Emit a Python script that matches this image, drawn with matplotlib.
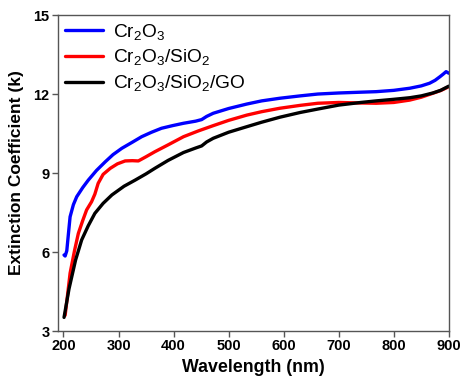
import matplotlib
matplotlib.use("Agg")
import matplotlib.pyplot as plt

plt.rcParams['font.family'] = 'Liberation Sans'
plt.rcParams['mathtext.fontset'] = 'custom'
plt.rcParams['mathtext.rm'] = 'Liberation Sans'
plt.rcParams['mathtext.it'] = 'Liberation Sans'

# wavelength (nm) and extinction coefficient
wl_cr = [201, 203, 206, 209, 212, 218, 224, 235, 245, 260, 276, 290, 306, 325, 342, 360, 378, 398, 418, 440, 451, 460,
         472, 500, 533, 560, 593, 630, 662, 700, 740, 768, 800, 829, 850, 865, 875, 884, 890, 895, 900]
k_cr = [5.89, 5.85, 6.05, 6.7, 7.34, 7.8, 8.1, 8.45, 8.73, 9.1, 9.43, 9.7, 9.94, 10.17, 10.38, 10.55, 10.7, 10.8, 10.89,
        10.97, 11.03, 11.15, 11.27, 11.45, 11.62, 11.74, 11.84, 11.93, 12.0, 12.04, 12.07, 12.09, 12.14, 12.22, 12.31,
        12.41, 12.52, 12.66, 12.76, 12.85, 12.79]

wl_si = [203, 207, 212, 220, 227, 235, 242, 251, 257, 263, 272, 285, 298, 312, 325, 336, 350, 366, 390, 418, 445, 472,
         500, 533, 560, 593, 630, 662, 700, 740, 768, 800, 829, 850, 871, 885, 900]
k_si = [3.6, 4.3, 5.2, 6.05, 6.71, 7.2, 7.6, 7.91, 8.2, 8.61, 8.95, 9.18, 9.35, 9.46, 9.47, 9.46, 9.62, 9.81, 10.07,
        10.38, 10.6, 10.8, 11.0, 11.2, 11.33, 11.46, 11.57, 11.65, 11.68, 11.66, 11.65, 11.68, 11.77, 11.88, 12.03,
        12.13, 12.28]

wl_go = [201, 205, 210, 215, 222, 233, 245, 257, 272, 288, 310, 330, 350, 366, 390, 418, 440, 451, 460, 472, 500, 533,
         560, 593, 630, 662, 700, 740, 768, 800, 829, 850, 871, 885, 900]
k_go = [3.52, 4.0, 4.6, 5.06, 5.7, 6.46, 7.0, 7.47, 7.85, 8.17, 8.5, 8.73, 8.97, 9.18, 9.48, 9.78, 9.95, 10.03, 10.18,
        10.32, 10.55, 10.76, 10.93, 11.12, 11.3, 11.43, 11.58, 11.68, 11.74, 11.8, 11.86, 11.93, 12.04, 12.14, 12.3]

labels = ['Cr$_2$O$_3$', 'Cr$_2$O$_3$/SiO$_2$', 'Cr$_2$O$_3$/SiO$_2$/GO']
colors = ['#0000ff', '#ff0000', '#000000']

fig = plt.figure(figsize=(4.62, 3.85), dpi=100)
ax = fig.add_axes([0.1255, 0.14, 0.846, 0.821])

for wl, k, lab, c in zip([wl_cr, wl_si, wl_go], [k_cr, k_si, k_go], labels, colors):
    ax.plot(wl, k, color=c, lw=2.4, label=lab, solid_capstyle='round', solid_joinstyle='round')

ax.set_xlim(190, 900)
ax.set_ylim(3, 15)
ax.set_xticks([200, 300, 400, 500, 600, 700, 800, 900])
ax.set_yticks([3, 6, 9, 12, 15])
ax.tick_params(direction='out', length=4, width=1, color='#555555', labelsize=10.5, pad=2)
for t in ax.get_xticklabels() + ax.get_yticklabels():
    t.set_fontweight('bold')
for s in ax.spines.values():
    s.set_color('#555555')
    s.set_linewidth(1)

ax.set_xlabel('Wavelength (nm)', fontsize=12.8, fontweight='bold', labelpad=4)
ax.set_ylabel('Extinction Coefficient (k)', fontsize=12.5, fontweight='bold', labelpad=7)

ax.legend(loc='upper left', frameon=False, fontsize=13.8, handlelength=2.0, handletextpad=0.5,
          borderaxespad=0.1, borderpad=0.25, labelspacing=0.3)

fig.savefig('out.png', dpi=100)
